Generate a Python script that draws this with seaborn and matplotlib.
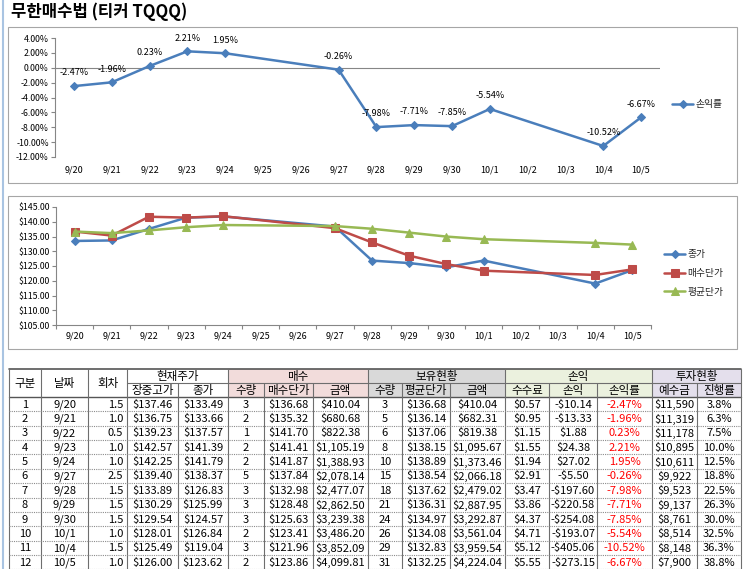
import numpy as np
import pandas as pd
import matplotlib
matplotlib.use("Agg")
import matplotlib.pyplot as plt
import seaborn as sns
from matplotlib.patches import Rectangle
from matplotlib.ticker import FuncFormatter, FixedLocator

sns.set_theme(style="white")
plt.rcParams['font.family'] = ['Noto Sans CJK KR', 'DejaVu Sans']
plt.rcParams['axes.unicode_minus'] = False

W, H = 743, 569

# ---- data ----
axis_dates = ['9/20', '9/21', '9/22', '9/23', '9/24', '9/25', '9/26', '9/27',
              '9/28', '9/29', '9/30', '10/1', '10/2', '10/3', '10/4', '10/5']
dates = ['9/20', '9/21', '9/22', '9/23', '9/24', '9/27', '9/28', '9/29',
         '9/30', '10/1', '10/4', '10/5']
rounds = [1.5, 1.0, 0.5, 1.0, 1.0, 2.5, 1.5, 1.5, 1.5, 1.0, 1.5, 1.0]
high_price = [137.46, 136.75, 139.23, 142.57, 142.25, 139.40, 133.89, 130.29,
              129.54, 128.01, 125.49, 126.00]
close_price = [133.49, 133.66, 137.57, 141.39, 141.79, 138.37, 126.83, 125.99,
               124.57, 126.84, 119.04, 123.62]
buy_qty = [3, 2, 1, 2, 2, 5, 3, 3, 3, 2, 3, 2]
buy_price = [136.68, 135.32, 141.70, 141.41, 141.87, 137.84, 132.98, 128.48,
             125.63, 123.41, 121.96, 123.86]
buy_amount = [410.04, 680.68, 822.38, 1105.19, 1388.93, 2078.14, 2477.07,
              2862.50, 3239.38, 3486.20, 3852.09, 4099.81]
hold_qty = [3, 5, 6, 8, 10, 15, 18, 21, 24, 26, 29, 31]
avg_price = [136.68, 136.14, 137.06, 138.15, 138.89, 138.54, 137.62, 136.31,
             134.97, 134.08, 132.83, 132.25]
hold_amount = [410.04, 682.31, 819.38, 1095.67, 1373.46, 2066.18, 2479.02,
               2887.95, 3292.87, 3561.04, 3959.54, 4224.04]
fee = [0.57, 0.95, 1.15, 1.55, 1.94, 2.91, 3.47, 3.86, 4.37, 4.71, 5.12, 5.55]
pnl = [-10.14, -13.33, 1.88, 24.38, 27.02, -5.50, -197.60, -220.58, -254.08,
       -193.07, -405.06, -273.15]
pnl_rate = [-2.47, -1.96, 0.23, 2.21, 1.95, -0.26, -7.98, -7.71, -7.85, -5.54,
            -10.52, -6.67]
deposit = [11590, 11319, 11178, 10895, 10611, 9922, 9523, 9137, 8761, 8514,
           8148, 7900]
progress = [3.8, 6.3, 7.5, 10.0, 12.5, 18.8, 22.5, 26.3, 30.0, 32.5, 36.3, 38.8]

pos = [axis_dates.index(d) for d in dates]

BLUE = '#4a7ebb'
RED = '#be4b48'
GREEN = '#98b954'
AXC = '#868686'


def rect(x0, y0, x1, y1):
    return [x0 / W, 1 - y1 / H, (x1 - x0) / W, (y1 - y0) / H]


def money(v, nd=2):
    s = f"${abs(v):,.{nd}f}"
    return '-' + s if v < 0 else s


fig = plt.figure(figsize=(W / 100, H / 100), dpi=100)
fig.patch.set_facecolor('white')

# overlay for frames, title and table
ov = fig.add_axes([0, 0, 1, 1])
ov.set_xlim(0, W)
ov.set_ylim(H, 0)
ov.axis('off')
ov.plot([2.5, 2.5], [0, H], color='#a9c4e2', lw=1.5)
ov.text(11, 12, '무한매수법 (티커 TQQQ)', fontsize=12, fontweight='bold',
        ha='left', va='center', color='#000000')
ov.add_patch(Rectangle((8, 27), 729, 156, fill=False, ec='#a6a6a6', lw=0.8))
ov.add_patch(Rectangle((8, 196), 729, 153, fill=False, ec='#a6a6a6', lw=0.8))


def style_axes(ax):
    for s in ['top', 'right']:
        ax.spines[s].set_visible(False)
    ax.spines['left'].set_color(AXC)
    ax.spines['left'].set_linewidth(0.8)
    ax.set_xlim(-0.5, 15.5)
    ax.set_xticks(range(len(axis_dates)))
    ax.set_xticklabels(axis_dates)
    ax.tick_params(axis='y', left=True, length=3, width=0.8, color=AXC,
                   labelsize=6.3, pad=1.5, labelcolor='#000000')
    ax.tick_params(axis='x', bottom=True, length=0, labelsize=6.5,
                   labelcolor='#000000')
    ax.set_xlabel('')
    ax.set_ylabel('')
    ax.grid(False)
    ax.set_facecolor('none')


# ---- chart 1: 손익률 ----
ax1 = fig.add_axes(rect(55, 38, 660, 157))
sns.lineplot(x=pos, y=pnl_rate, ax=ax1, color=BLUE, marker='D', markersize=4.5,
             markeredgecolor=BLUE, linewidth=1.8, label='손익률')
style_axes(ax1)
ax1.spines['bottom'].set_visible(False)
ax1.set_ylim(-12, 4)
ax1.set_yticks(np.arange(-12, 4.1, 2))
ax1.yaxis.set_major_formatter(FuncFormatter(lambda v, _: f"{v:.2f}%"))
ax1.axhline(0, color=AXC, lw=0.8, zorder=1)
ax1.tick_params(axis='x', pad=6)
for p, v in zip(pos, pnl_rate):
    ax1.annotate(f"{v:.2f}%", (p, v), xytext=(0, 9.5), textcoords='offset points',
                 ha='center', va='center', fontsize=6.5, color='#000000')
ax1.legend(loc='center left', bbox_to_anchor=(672 / W, 1 - 104 / H),
           bbox_transform=fig.transFigure, frameon=False, fontsize=7,
           handlelength=2.2, handletextpad=0.2, borderpad=0, borderaxespad=0)

# ---- chart 2: 가격 ----
ax2 = fig.add_axes(rect(56, 207, 651, 325))
sns.lineplot(x=pos, y=close_price, ax=ax2, color=BLUE, marker='D', markersize=4.5,
             markeredgecolor=BLUE, linewidth=1.8, label='종가')
sns.lineplot(x=pos, y=buy_price, ax=ax2, color=RED, marker='s', markersize=5.5,
             markeredgecolor=RED, linewidth=1.8, label='매수단가')
sns.lineplot(x=pos, y=avg_price, ax=ax2, color=GREEN, marker='^', markersize=5.5,
             markeredgecolor=GREEN, linewidth=1.8, label='평균단가')
style_axes(ax2)
ax2.spines['bottom'].set_color(AXC)
ax2.spines['bottom'].set_linewidth(0.8)
ax2.set_ylim(105, 145)
ax2.set_yticks(np.arange(105, 145.1, 5))
ax2.yaxis.set_major_formatter(FuncFormatter(lambda v, _: f"${v:.2f}"))
ax2.xaxis.set_minor_locator(FixedLocator(np.arange(-0.5, 15.6, 1)))
ax2.tick_params(axis='x', which='minor', bottom=True, length=3, width=0.8, color=AXC)
ax2.tick_params(axis='x', which='major', pad=5)
ax2.legend(loc='center left', bbox_to_anchor=(664 / W, 1 - 273 / H),
           bbox_transform=fig.transFigure, frameon=False, fontsize=7,
           handlelength=2.2, handletextpad=0.2, borderpad=0, borderaxespad=0,
           labelspacing=0.9)

# ---- table ----
col_edges = [9, 41, 88, 127, 178, 228, 264, 313, 368, 402, 450, 505, 549, 597,
             652, 697, 741]
hdr_top, hdr_mid, hdr_bot = 369, 383, 397
row_h = 14.36
line_c = '#6e6e6e'

groups = [('현재주가', 3, 5, 'white'), ('매수', 5, 8, '#f2dcdb'),
          ('보유현황', 8, 11, '#d9d9d9'), ('손익', 11, 14, '#ebf1de'),
          ('투자현황', 14, 16, '#e4dfec')]
left_headers = ['구분', '날짜', '회차']
sub_headers = ['장중고가', '종가', '수량', '매수단가', '금액', '수량', '평균단가', '금액',
               '수수료', '손익', '손익률', '예수금', '진행률']

for name, c0, c1, fc in groups:
    x0, x1 = col_edges[c0], col_edges[c1]
    ov.add_patch(Rectangle((x0, hdr_top), x1 - x0, hdr_bot - hdr_top, fc=fc, ec='none'))
    ov.text((x0 + x1) / 2, (hdr_top + hdr_mid) / 2 + 0.5, name, fontsize=8.3,
            ha='center', va='center', color='#000000')
for i, name in enumerate(left_headers):
    ov.text((col_edges[i] + col_edges[i + 1]) / 2, (hdr_top + hdr_bot) / 2, name,
            fontsize=8.3, ha='center', va='center', color='#000000')
for i, name in enumerate(sub_headers):
    c = i + 3
    ov.text((col_edges[c] + col_edges[c + 1]) / 2, (hdr_mid + hdr_bot) / 2 + 0.5,
            name, fontsize=8.3, ha='center', va='center', color='#000000')

# borders
ov.plot([col_edges[0], col_edges[-1]], [hdr_top, hdr_top], color='#555555', lw=1.2)
ov.plot([col_edges[3], col_edges[-1]], [hdr_mid, hdr_mid], color=line_c, lw=0.8)
ov.plot([col_edges[0], col_edges[-1]], [hdr_bot, hdr_bot], color='#555555', lw=1.0)
group_edges = [0, 1, 2, 3, 5, 8, 11, 14, 16]
for gi in group_edges:
    ov.plot([col_edges[gi]] * 2, [hdr_top, hdr_mid], color=line_c, lw=0.8)
for x in col_edges:
    ov.plot([x, x], [hdr_mid, H], color=line_c, lw=0.8)
for r in range(1, len(dates) + 1):
    y = hdr_bot + r * row_h
    ov.plot([col_edges[0], col_edges[-1]], [y, y], color='#8c8c8c', lw=0.8,
            linestyle=(0, (1, 1)))

columns = [
    [str(i + 1) for i in range(len(dates))],
    dates,
    [f"{v:.1f}" for v in rounds],
    [money(v) for v in high_price],
    [money(v) for v in close_price],
    [str(v) for v in buy_qty],
    [money(v) for v in buy_price],
    [money(v) for v in buy_amount],
    [str(v) for v in hold_qty],
    [money(v) for v in avg_price],
    [money(v) for v in hold_amount],
    [money(v) for v in fee],
    [money(v) for v in pnl],
    [f"{v:.2f}%" for v in pnl_rate],
    [money(v, 0) for v in deposit],
    [f"{v:.1f}%" for v in progress],
]

for c, vals in enumerate(columns):
    x0, x1 = col_edges[c], col_edges[c + 1]
    color = '#ff0000' if c == 13 else '#000000'
    for r, s in enumerate(vals):
        y = hdr_bot + (r + 0.5) * row_h + 0.5
        if c == 2:
            ov.text(x1 - 4, y, s, fontsize=8, ha='right', va='center', color=color)
        else:
            ov.text((x0 + x1) / 2, y, s, fontsize=8, ha='center', va='center', color=color)

fig.savefig('out.png', dpi=100, facecolor='white')
